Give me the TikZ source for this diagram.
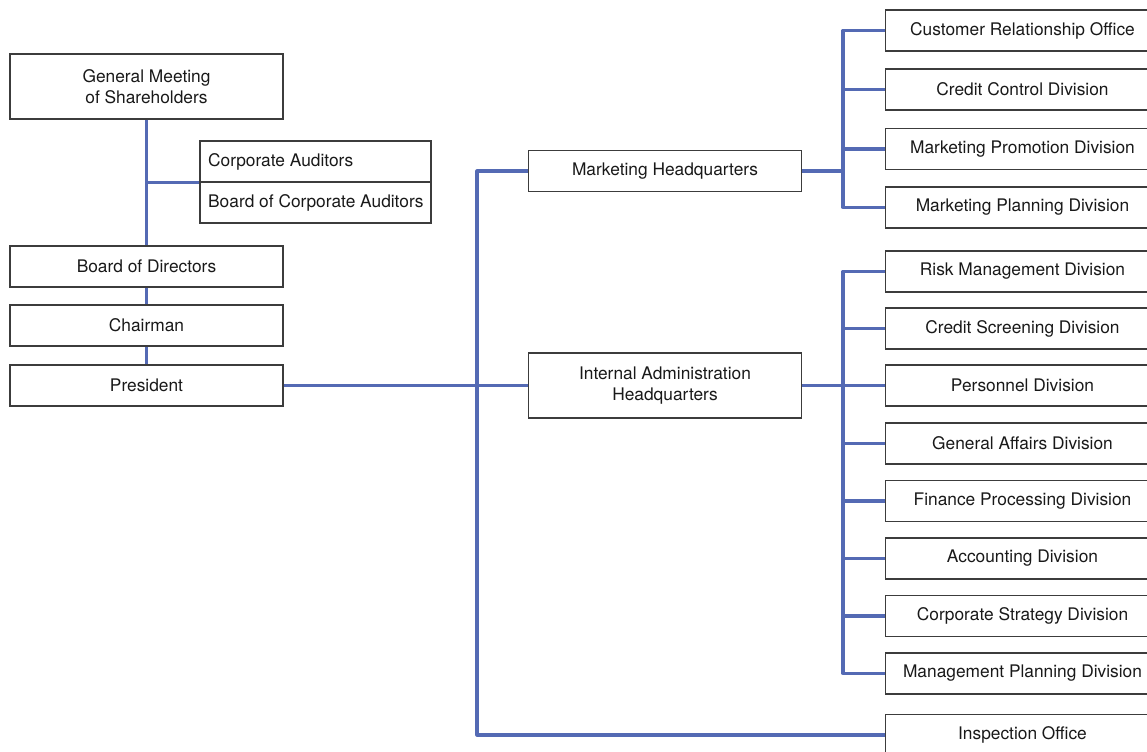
\documentclass[tikz,border=0pt]{standalone}
\usepackage{fontspec}
\setmainfont{TeX Gyre Heros}
\begin{document}
\begin{tikzpicture}[x=0.75pt,y=-0.75pt,
  box/.style={draw=boxgray,line width=1pt,fill=white,text=black!90,font=\fontsize{13pt}{15.5pt}\selectfont,inner sep=0pt,align=center},
  lbox/.style={box,minimum width=204.75pt,minimum height=30.75pt},
  rbox/.style={box,minimum width=205.5pt,minimum height=30.75pt},
  abox/.style={box,minimum width=173.25pt,minimum height=30.75pt},
  link/.style={draw=linkblue,line width=2.3pt,line join=round}]
\definecolor{linkblue}{RGB}{84,106,180}
\definecolor{boxgray}{RGB}{60,60,60}
\newcommand{\atext}[1]{\makebox[161pt][l]{#1}}
\useasboundingbox (0,0) rectangle (1147,751);
% left column
\node[lbox,minimum height=48.75pt] (gm) at (146.5,86.5) {General Meeting\\of Shareholders};
\node[abox] (ca) at (315.5,161.5) {\atext{Corporate Auditors}};
\node[abox] (bca) at (315.5,202.5) {\atext{Board of Corporate Auditors}};
\node[lbox] (bod) at (146.5,266.5) {Board of Directors};
\node[lbox] (ch) at (146.5,325.5) {Chairman};
\node[lbox] (pres) at (146.5,385.5) {President};
% headquarters
\node[lbox] (mhq) at (665,171) {Marketing Headquarters};
\node[lbox,minimum height=48.75pt] (iahq) at (665,385.5) {Internal Administration\\Headquarters};
% marketing children
\node[rbox] (m1) at (1022.5,30.5) {Customer Relationship Office};
\node[rbox] (m2) at (1022.5,89.5) {Credit Control Division};
\node[rbox] (m3) at (1022.5,149) {Marketing Promotion Division};
\node[rbox] (m4) at (1022.5,207.5) {Marketing Planning Division};
% internal children
\node[rbox] (i1) at (1022.5,271.5) {Risk Management Division};
\node[rbox] (i2) at (1022.5,328.5) {Credit Screening Division};
\node[rbox] (i3) at (1022.5,385.5) {Personnel Division};
\node[rbox] (i4) at (1022.5,443.5) {General Affairs Division};
\node[rbox] (i5) at (1022.5,501) {Finance Processing Division};
\node[rbox] (i6) at (1022.5,558.5) {Accounting Division};
\node[rbox] (i7) at (1022.5,616) {Corporate Strategy Division};
\node[rbox] (i8) at (1022.5,673.5) {Management Planning Division};
\node[rbox] (insp) at (1022.5,735) {Inspection Office};
% connectors
\path[link] (gm.south) -- (bod.north);
\path[link] (ca.south west) -- (ca.south west -| gm.south);
\path[link] (bod.south) -- (ch.north);
\path[link] (ch.south) -- (pres.north);
\coordinate (tr) at (477,385.5);
\path[link] (pres.east) -- (tr);
\path[link] (mhq.west) -| (tr);
\path[link] (iahq.west) -- (tr);
\path[link] (insp.west) -| (tr);
\coordinate (mb) at (843,171);
\path[link] (mhq.east) -- (mb);
\foreach \c in {m1,m2,m3,m4} {\path[link] (\c.west) -| (mb);}
\coordinate (ib) at (843,385.5);
\path[link] (iahq.east) -- (ib);
\foreach \c in {i1,i2,i3,i4,i5,i6,i7,i8} {\path[link] (\c.west) -| (ib);}
\end{tikzpicture}
\end{document}
